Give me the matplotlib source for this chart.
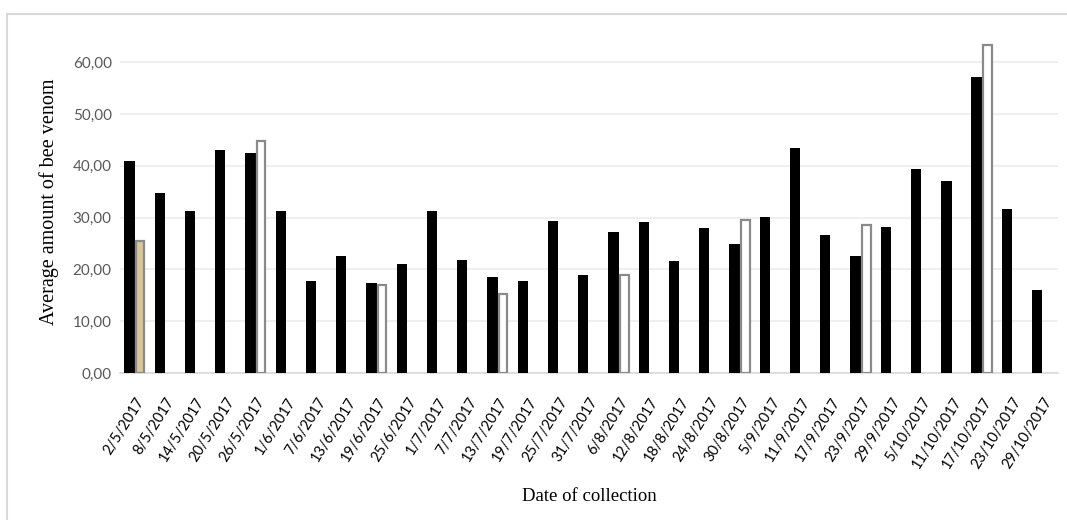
import numpy as np
import matplotlib
matplotlib.use("Agg")
import matplotlib.pyplot as plt
from matplotlib.lines import Line2D

dates = ["2/5/2017", "8/5/2017", "14/5/2017", "20/5/2017", "26/5/2017",
         "1/6/2017", "7/6/2017", "13/6/2017", "19/6/2017", "25/6/2017",
         "1/7/2017", "7/7/2017", "13/7/2017", "19/7/2017", "25/7/2017",
         "31/7/2017", "6/8/2017", "12/8/2017", "18/8/2017", "24/8/2017",
         "30/8/2017", "5/9/2017", "11/9/2017", "17/9/2017", "23/9/2017",
         "29/9/2017", "5/10/2017", "11/10/2017", "17/10/2017", "23/10/2017",
         "29/10/2017"]

# black series (every collection)
venom = [40.9, 34.7, 31.3, 43.0, 42.5, 31.3, 17.8, 22.5, 17.4, 21.0,
         31.3, 21.9, 18.6, 17.8, 29.4, 18.9, 27.3, 29.1, 21.7, 27.9,
         24.9, 30.1, 43.4, 26.6, 22.5, 28.2, 39.3, 37.1, 57.2, 31.7,
         16.0]
# outlined series (only some collections)
venom_b = [25.5, np.nan, np.nan, np.nan, 44.7, np.nan, np.nan, np.nan, 17.0, np.nan,
           np.nan, np.nan, 15.2, np.nan, np.nan, np.nan, 18.9, np.nan, np.nan, np.nan,
           29.5, np.nan, np.nan, np.nan, 28.6, np.nan, np.nan, np.nan, 63.3, np.nan,
           np.nan]
fill_b = ["#d9c79b"] + ["white"] * 30

fig = plt.figure(figsize=(10.67, 5.2), dpi=100)
ax = fig.add_axes([0.1125, 0.2827, 0.8791, 0.6577])

x = np.arange(len(dates))
ax.bar(x - 0.19, venom, width=0.34, color="black", zorder=3)
ax.bar(x + 0.17, venom_b, width=0.27, color=fill_b, edgecolor="#8a8a8a",
       linewidth=1.6, zorder=3)

ax.set_xlim(-0.5, len(dates) - 0.5)
ax.set_ylim(0, 66)
ax.set_yticks(np.arange(0, 61, 10))
ax.set_yticklabels([f"{v},00" for v in range(0, 61, 10)], fontsize=11,
                   color="#595959", family="Lato")
ax.set_xticks(x)
ax.set_xticklabels(dates, rotation=58, ha="right", va="top",
                   rotation_mode="anchor", fontsize=10.5, family="Lato")
ax.tick_params(length=0, pad=6)
ax.tick_params(axis="x", pad=16)

ax.grid(axis="y", color="#ececec", linewidth=1.2, zorder=0)
for s in ["top", "right", "left"]:
    ax.spines[s].set_visible(False)
ax.spines["bottom"].set_color("#d9d9d9")
ax.spines["bottom"].set_linewidth(1.2)

ax.set_ylabel("Average amount of bee venom", family="Liberation Serif",
              fontsize=14.5, labelpad=10)
ax.set_xlabel("Date of collection", family="Liberation Serif", fontsize=13.5,
              labelpad=12)

# chart frame (top and left edges visible)
fig.add_artist(Line2D([6.5 / 1067, 1066 / 1067], [1 - 13.5 / 520] * 2,
                      color="#d9d9d9", linewidth=1.5))
fig.add_artist(Line2D([6.5 / 1067] * 2, [0, 1 - 13.5 / 520],
                      color="#d9d9d9", linewidth=1.5))

fig.savefig("out.png", dpi=100)
plt.close(fig)
